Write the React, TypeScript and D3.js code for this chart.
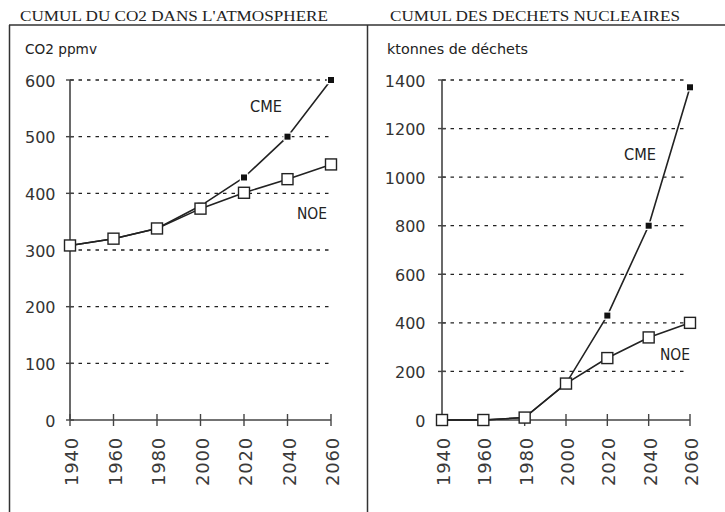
import React from "react";
import * as d3 from "d3";

const years = [1940, 1960, 1980, 2000, 2020, 2040, 2060];
const co2NOE = [308, 320, 338, 373, 401, 425, 451];
const co2CME = [308, 320, 338, 378, 428, 500, 600];
const wasteNOE = [0, 0, 10, 150, 255, 340, 400];
const wasteCME = [0, 0, 10, 150, 430, 800, 1370];
const co2Ticks = [0, 100, 200, 300, 400, 500, 600];
const wasteTicks = [0, 200, 400, 600, 800, 1000, 1200, 1400];

const INK = "#222";
const SANS = "'DejaVu Sans', Verdana, sans-serif";
const SERIF = "'Liberation Serif', 'Times New Roman', serif";

type PanelProps = {
  x0: number;
  x1: number;
  yMax: number;
  ticks: number[];
  noe: number[];
  cme: number[];
  gridEnd: number;
  labelEnd: number;
  cmeLabel: [number, number];
  noeLabel: [number, number];
};

function Panel(p: PanelProps) {
  const x = d3.scaleLinear().domain([1940, 2060]).range([p.x0, p.x1]);
  const y = d3.scaleLinear().domain([0, p.yMax]).range([420, 80]);
  const line = d3
    .line<number>()
    .x((_, i) => x(years[i]))
    .y((d) => y(d));
  const ax = x(1940);
  return (
    <g>
      {p.ticks
        .filter((t) => t > 0)
        .map((t) => (
          <line
            key={"g" + t}
            x1={ax}
            x2={p.gridEnd}
            y1={y(t)}
            y2={y(t)}
            stroke={INK}
            strokeWidth={1.3}
            strokeDasharray="3.5 5"
          />
        ))}
      <line x1={ax} x2={ax} y1={y(p.yMax)} y2={y(0)} stroke="#444" strokeWidth={1.6} />
      <line x1={ax} x2={x(2060)} y1={y(0)} y2={y(0)} stroke="#444" strokeWidth={1.6} />
      {p.ticks.map((t) => (
        <g key={"t" + t}>
          <line x1={ax - 4} x2={ax + 4} y1={y(t)} y2={y(t)} stroke="#444" strokeWidth={1.4} />
          <text
            x={p.labelEnd}
            y={y(t) + 6.5}
            textAnchor="end"
            fontFamily={SANS}
            fontSize={16}
            fill="#333"
          >
            {t}
          </text>
        </g>
      ))}
      {years.map((yr) => (
        <g key={"x" + yr}>
          <line x1={x(yr)} x2={x(yr)} y1={414} y2={426} stroke="#444" strokeWidth={1.4} />
          <text
            transform={`translate(${x(yr) + 8},437) rotate(-90)`}
            textAnchor="end"
            fontFamily={SANS}
            fontSize={18}
            letterSpacing={0.8}
            fill="#3a3a3a"
          >
            {yr}
          </text>
        </g>
      ))}
      <path d={line(p.cme) || ""} fill="none" stroke={INK} strokeWidth={1.6} />
      <path d={line(p.noe) || ""} fill="none" stroke={INK} strokeWidth={1.6} />
      {p.cme.map((v, i) => (
        <rect
          key={"c" + i}
          x={x(years[i]) - 3}
          y={y(v) - 3}
          width={6}
          height={6}
          fill="#111"
          stroke="#fff"
          strokeWidth={2.5}
          style={{ paintOrder: "stroke" }}
        />
      ))}
      {p.noe.map((v, i) => (
        <rect
          key={"n" + i}
          x={x(years[i]) - 5.5}
          y={y(v) - 5.5}
          width={11}
          height={11}
          fill="#fff"
          stroke={INK}
          strokeWidth={1.4}
        />
      ))}
      <text x={p.cmeLabel[0]} y={p.cmeLabel[1]} fontFamily={SANS} fontSize={15} fill={INK} textLength={32} lengthAdjust="spacingAndGlyphs">
        CME
      </text>
      <text x={p.noeLabel[0]} y={p.noeLabel[1]} fontFamily={SANS} fontSize={15} fill={INK} textLength={30} lengthAdjust="spacingAndGlyphs">
        NOE
      </text>
    </g>
  );
}

export default function App() {
  return (
    <svg
      width={725}
      height={512}
      style={{ position: "absolute", left: 0, top: 0, background: "#fff" }}
    >
      <rect width={725} height={512} fill="#fff" />
      <line x1={9} x2={725} y1={25} y2={25} stroke="#333" strokeWidth={1.5} />
      <line x1={9.5} x2={9.5} y1={25} y2={512} stroke="#333" strokeWidth={1.5} />
      <line x1={367.5} x2={367.5} y1={25} y2={512} stroke="#333" strokeWidth={1.5} />
      <text x={20} y={20.5} fontFamily={SERIF} fontSize={15} fill={INK} textLength={308} lengthAdjust="spacingAndGlyphs">
        CUMUL DU CO2 DANS L'ATMOSPHERE
      </text>
      <text x={390} y={20.5} fontFamily={SERIF} fontSize={15} fill={INK} textLength={290} lengthAdjust="spacingAndGlyphs">
        CUMUL DES DECHETS NUCLEAIRES
      </text>
      <text x={25} y={53.5} fontFamily={SANS} fontSize={14} fill={INK} textLength={72} lengthAdjust="spacingAndGlyphs">
        CO2 ppmv
      </text>
      <text x={387} y={53.5} fontFamily={SANS} fontSize={14} fill={INK} textLength={141} lengthAdjust="spacingAndGlyphs">
        ktonnes de déchets
      </text>
      <Panel
        x0={70}
        x1={331}
        yMax={600}
        ticks={co2Ticks}
        noe={co2NOE}
        cme={co2CME}
        gridEnd={332}
        labelEnd={55.5}
        cmeLabel={[250, 112]}
        noeLabel={[297, 219]}
      />
      <Panel
        x0={442}
        x1={690}
        yMax={1400}
        ticks={wasteTicks}
        noe={wasteNOE}
        cme={wasteCME}
        gridEnd={685}
        labelEnd={425.5}
        cmeLabel={[624, 160]}
        noeLabel={[660, 360]}
      />
    </svg>
  );
}
